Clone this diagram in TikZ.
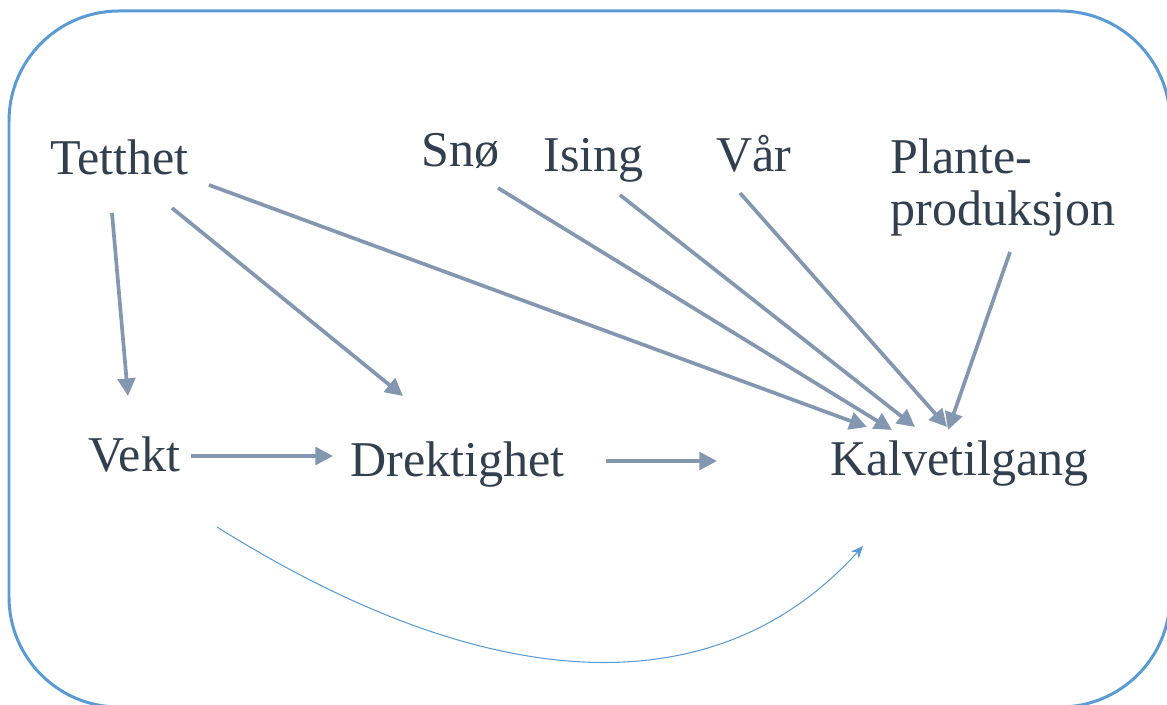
\documentclass[tikz,border=0pt]{standalone}
\usepackage{fontspec}
\setmainfont{Liberation Serif}
\usepackage{xcolor}
\usepackage{tikz}
\usetikzlibrary{positioning,calc,arrows.meta}
\definecolor{textdark}{HTML}{323F4F}
\definecolor{arrowgray}{HTML}{8497B0}
\definecolor{frameblue}{HTML}{5B9BD5}

\begin{document}
\begin{tikzpicture}[
  x=0.02cm, y=-0.02cm,
  word/.style={anchor=base west, inner sep=0pt, text=textdark, font=\fontsize{28.5}{30}\selectfont},
  arrow/.style={-{Triangle[length=10pt,width=10pt]}, arrowgray, line width=2.1pt},
  thin/.style={-{Stealth[length=7pt,width=6pt]}, frameblue, line width=0.6pt}
]
\useasboundingbox (0,0) rectangle (1167,705);
\clip (0,0) rectangle (1167,705);
\draw[frameblue, line width=1.7pt, rounded corners=2.2cm] (9,11) rectangle (1170,707);
\node[word] (tett) at (50,175) {Tetthet};
\node[word] (sno) at (421,167) {Snø};
\node[word] (ising) at (543,172) {Ising};
\node[word] (vaar) at (716,172) {Vår};
\node[word, align=left] (plante) at (890,226) {Plante-\\produksjon};
\node[word] (vekt) at (88,472) {Vekt};
\node[word] (drek) at (350,477) {Drektighet};
\node[word] (kalv) at (830,476) {Kalvetilgang};
\draw[arrow] ($(tett.base west)+(62,38)$) -- ($(vekt.base west)+(40,-76)$);
\draw[arrow] ($(tett.base west)+(122,33)$) -- ($(drek.base west)+(53,-81)$);
\draw[arrow] ($(tett.base west)+(159,10)$) -- ($(kalv.base west)+(37,-49)$);
\draw[arrow] ($(sno.base west)+(77,21)$) -- ($(kalv.base west)+(62,-46)$);
\draw[arrow] ($(ising.base west)+(77,23)$) -- ($(kalv.base west)+(85,-49)$);
\draw[arrow] ($(vaar.base west)+(24,21)$) -- ($(kalv.base west)+(117,-49)$);
\draw[arrow] ($(plante.base west)+(120,26)$) -- ($(kalv.base west)+(118,-46)$);
\draw[arrow] ($(vekt.base west)+(103,-16)$) -- ($(drek.base west)+(-17,-21)$);
\draw[arrow] ($(drek.base west)+(256,-16)$) -- ($(kalv.base west)+(-113,-15)$);
\draw[thin] ($(vekt.base west)+(129,55)$) .. controls (488,697) and (716,709) .. ($(kalv.base west)+(33,70)$);
\end{tikzpicture}
\end{document}
